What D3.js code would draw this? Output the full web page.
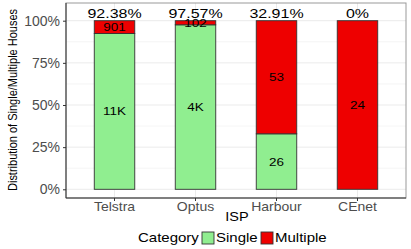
<!DOCTYPE html>
<html>
<head>
<meta charset="utf-8">
<script src="https://cdn.jsdelivr.net/npm/d3@7"></script>
<style>
  body { margin: 0; background: white; }
  text { font-family: "Liberation Sans", Arial, sans-serif; }
</style>
</head>
<body>
<script>
// data
var isps = ["Telstra", "Optus", "Harbour", "CEnet"];
var singleCounts = [10923, 4095, 26, 0];
var multipleCounts = [901, 102, 53, 24];
var yTicks = [0, 0.25, 0.5, 0.75, 1];
var categories = ["Single", "Multiple"];
var colors = ["#90ee90", "#ee0000"];

var width = 411, height = 249;
var svg = d3.select("body").append("svg")
   .attr("width", width)
   .attr("height", height);

var rows = isps.map(function (isp, i) {
   var tot = singleCounts[i] + multipleCounts[i];
   return { isp: isp, Single: singleCounts[i] / tot, Multiple: multipleCounts[i] / tot,
            nS: singleCounts[i], nM: multipleCounts[i] };
});

var x = d3.scaleBand().domain(isps).range([66, 406])
   .paddingInner(0.5).paddingOuter(0.349);
var y = d3.scaleLinear().domain([-0.0516, 1.105]).range([198, 3]);

var sy = 0.85; // text looks squashed vertically
function label(g, tx, ty, str, size, fill, anchor) {
   return g.append("text")
      .attr("transform", "translate(" + tx + "," + ty + ") scale(1," + sy + ")")
      .attr("text-anchor", anchor || "middle")
      .attr("dy", "0.35em")
      .style("font-size", size + "px")
      .style("fill", fill || "black")
      .text(str);
}

// grid
var grid = svg.append("g");
d3.range(0, 1.01, 0.125).forEach(function (t) {
   grid.append("line").attr("x1", 66).attr("x2", 406)
      .attr("y1", y(t)).attr("y2", y(t))
      .attr("stroke", "#ebebeb")
      .attr("stroke-width", t * 4 % 1 === 0 ? 1 : 0.5);
});
isps.forEach(function (d) {
   var cx = x(d) + x.bandwidth() / 2;
   grid.append("line").attr("x1", cx).attr("x2", cx)
      .attr("y1", 3).attr("y2", 198).attr("stroke", "#ebebeb");
});

// stacked bars
var stack = d3.stack().keys(categories)(rows);
svg.append("g").selectAll("g")
   .data(stack)
   .enter().append("g")
   .attr("fill", function (d, i) { return colors[i]; })
   .selectAll("rect")
   .data(function (d) { return d; })
   .enter().append("rect")
   .attr("x", function (d) { return x(d.data.isp); })
   .attr("width", x.bandwidth())
   .attr("y", function (d) { return y(d[1]); })
   .attr("height", function (d) { return y(d[0]) - y(d[1]); })
   .attr("stroke", "#333333")
   .attr("stroke-width", 0.9);

function fmtCount(n) {
   return n >= 1000 ? Math.round(n / 1000) + "K" : String(n);
}

var lab = svg.append("g");
stack.forEach(function (layer) {
   layer.forEach(function (d) {
      var n = layer.key === "Single" ? d.data.nS : d.data.nM;
      if (n === 0) return;
      label(lab, x(d.data.isp) + x.bandwidth() / 2, y((d[0] + d[1]) / 2), fmtCount(n), 13.5);
   });
});
rows.forEach(function (d) {
   label(lab, x(d.isp) + x.bandwidth() / 2, 13, +(d.Single * 100).toFixed(2) + "%", 16);
});

// panel border and axes
svg.append("rect").attr("x", 66).attr("y", 3).attr("width", 340).attr("height", 195)
   .attr("fill", "none").attr("stroke", "#999999").attr("stroke-width", 1);
svg.append("line").attr("x1", 66).attr("x2", 66).attr("y1", 3).attr("y2", 198)
   .attr("stroke", "#333333");
svg.append("line").attr("x1", 66).attr("x2", 406).attr("y1", 198).attr("y2", 198)
   .attr("stroke", "#333333");

var yAxis = svg.append("g").attr("transform", "translate(66,0)")
   .call(d3.axisLeft(y).tickValues(yTicks).tickFormat(d3.format(".0%")).tickSize(3).tickPadding(3));
var xAxis = svg.append("g").attr("transform", "translate(0,198)")
   .call(d3.axisBottom(x).tickSize(3).tickPadding(2));
[yAxis, xAxis].forEach(function (a) {
   a.select(".domain").remove();
   a.selectAll(".tick line").attr("stroke", "#333333");
   a.selectAll(".tick text").style("font-size", "14px").style("fill", "#4d4d4d")
      .style("font-family", "Liberation Sans, Arial, sans-serif");
});
xAxis.selectAll(".tick text").attr("transform", "scale(1," + sy + ")");
yAxis.selectAll(".tick text").each(function () {
   var t = d3.select(this);
   t.attr("transform", "translate(0," + t.attr("y") + ")");
});

// axis titles
label(svg, 237, 217, "ISP", 14.5);
svg.append("text")
   .attr("transform", "translate(12,100) rotate(-90)")
   .attr("text-anchor", "middle")
   .attr("dy", "0.35em")
   .attr("textLength", 182)
   .attr("lengthAdjust", "spacingAndGlyphs")
   .style("font-size", "13.5px")
   .text("Distribution of Single/Multiple Houses");

// legend
var leg = svg.append("g");
label(leg, 138, 238, "Category", 15, "black", "start");
var legX = [202, 261];
categories.forEach(function (c, i) {
   leg.append("rect").attr("x", legX[i]).attr("y", 232).attr("width", 12).attr("height", 12)
      .attr("fill", colors[i]).attr("stroke", "#333333").attr("stroke-width", 0.9);
   label(leg, legX[i] + 14, 238, c, 15, "black", "start");
});
</script>
</body>
</html>
